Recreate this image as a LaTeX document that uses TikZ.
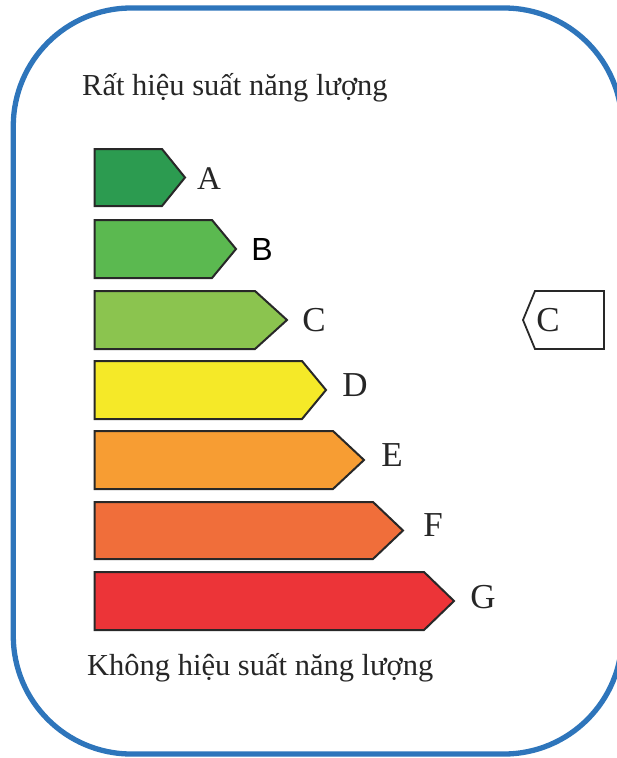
\documentclass[tikz,border=0pt]{standalone}
\usepackage{fontspec}
\setmainfont{Liberation Serif}
\newfontfamily\labsans{Liberation Sans}
\definecolor{frameblue}{RGB}{46,117,187}
\definecolor{txtgray}{RGB}{38,38,38}
\definecolor{outl}{RGB}{40,40,40}
\definecolor{cA}{RGB}{44,155,80}
\definecolor{cB}{RGB}{91,185,80}
\definecolor{cC}{RGB}{139,196,79}
\definecolor{cD}{RGB}{245,233,40}
\definecolor{cE}{RGB}{247,157,51}
\definecolor{cF}{RGB}{240,110,58}
\definecolor{cG}{RGB}{236,52,56}
\tikzset{
  bar/.style={draw=outl, line width=2pt, line join=miter},
  lbl/.style={anchor=base, inner sep=0pt, text=txtgray, font=\fontsize{35}{40}\selectfont},
  caption/.style={anchor=base west, inner sep=0pt, text=txtgray, font=\fontsize{30.5}{36}\selectfont}
}
\begin{document}
\begin{tikzpicture}[x=1pt, y=-1pt]
\useasboundingbox (0,0) rectangle (617,758);
\clip (0,0) rectangle (617,758);
% frame
\draw[frameblue, line width=5.3pt, rounded corners=118pt] (13.3,8) rectangle (622,754);
% captions
\node[caption] (top) at (82,95) {Rất hiệu suất năng lượng};
\node[caption] (bottom) at (87,675) {Không hiệu suất năng lượng};
% bars
\draw[bar, fill=cA] (94.5,149) -- (162,149) -- (185,177.5) -- (162,206) -- (94.5,206) -- cycle;
\draw[bar, fill=cB] (94.5,220) -- (212,220) -- (236,249) -- (212,278) -- (94.5,278) -- cycle;
\draw[bar, fill=cC] (94.5,291) -- (255,291) -- (287,320) -- (255,349) -- (94.5,349) -- cycle;
\draw[bar, fill=cD] (94.5,361) -- (302,361) -- (326,390) -- (302,419) -- (94.5,419) -- cycle;
\draw[bar, fill=cE] (94.5,431) -- (333,431) -- (364,460) -- (333,489) -- (94.5,489) -- cycle;
\draw[bar, fill=cF] (94.5,502) -- (373,502) -- (403,530.5) -- (373,559) -- (94.5,559) -- cycle;
\draw[bar, fill=cG] (94.5,572) -- (424,572) -- (454,601) -- (424,630) -- (94.5,630) -- cycle;
% letters
\node[lbl, font=\fontsize{33}{38}\selectfont] (lA) at (209,189) {A};
\node[lbl, font=\labsans\fontsize{32}{36}\selectfont, text=black] (lB) at (262,260) {B};
\node[lbl] (lC) at (314,331) {C};
\node[lbl] (lD) at (355,396) {D};
\node[lbl] (lE) at (392,466) {E};
\node[lbl] (lF) at (433,536) {F};
\node[lbl] (lG) at (483,608) {G};
% indicator
\draw[bar, line width=1.8pt, fill=white] (523,320) -- (535,291) -- (604,291) -- (604,349) -- (535,349) -- cycle;
\node[lbl] (rC) at (548,331) {C};
\end{tikzpicture}
\end{document}
